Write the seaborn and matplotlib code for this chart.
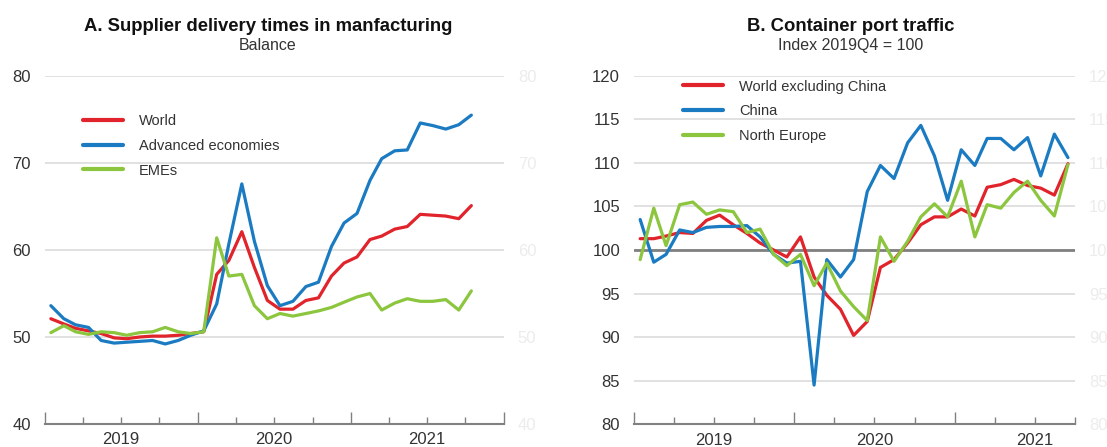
import matplotlib
matplotlib.use("Agg")
import matplotlib.pyplot as plt
import matplotlib.dates as mdates
from matplotlib.ticker import FuncFormatter, NullFormatter
import numpy as np
import pandas as pd
import seaborn as sns

# ---------------- data ----------------
# Panel A: supplier delivery times (monthly, Jan 2019 - Oct 2021)
months_a = pd.date_range("2019-01-01", periods=34, freq="MS") + pd.Timedelta(days=14)
world = [52.1, 51.5, 51.0, 50.7, 50.4, 49.9, 49.8, 50.0, 50.1, 50.1, 50.2, 50.4,
         50.6, 57.2, 58.8, 62.1, 58.0, 54.2, 53.2, 53.2, 54.2, 54.5, 57.0, 58.5,
         59.2, 61.2, 61.6, 62.4, 62.7, 64.1, 64.0, 63.9, 63.6, 65.1]
advanced = [53.6, 52.1, 51.4, 51.1, 49.6, 49.3, 49.4, 49.5, 49.6, 49.2, 49.6, 50.2,
            50.7, 53.8, 60.7, 67.6, 61.0, 55.9, 53.6, 54.1, 55.8, 56.3, 60.4, 63.1,
            64.2, 68.0, 70.5, 71.4, 71.5, 74.6, 74.3, 73.9, 74.4, 75.5]
emes = [50.5, 51.3, 50.6, 50.3, 50.6, 50.5, 50.2, 50.5, 50.6, 51.1, 50.6, 50.4,
        50.6, 61.4, 57.0, 57.2, 53.6, 52.1, 52.7, 52.4, 52.7, 53.0, 53.4, 54.0,
        54.6, 55.0, 53.1, 53.9, 54.4, 54.1, 54.1, 54.3, 53.1, 55.3]
labels_a = ["World", "Advanced economies", "EMEs"]

# Panel B: container port traffic (monthly, Jan 2019 - Sep 2021)
months_b = pd.date_range("2019-01-01", periods=33, freq="MS") + pd.Timedelta(days=14)
world_ex_china = [101.3, 101.3, 101.6, 102.0, 101.9, 103.4, 104.0, 102.9, 101.9, 100.8, 100.0, 99.2,
                  101.5, 96.9, 94.8, 93.2, 90.2, 91.8, 98.0, 98.9, 100.8, 102.9, 103.8, 103.8,
                  104.7, 103.9, 107.2, 107.5, 108.1, 107.4, 107.1, 106.3, 109.9]
china = [103.5, 98.6, 99.5, 102.3, 102.0, 102.6, 102.7, 102.7, 102.8, 101.5, 99.5, 98.5,
         98.7, 84.5, 98.9, 96.9, 98.9, 106.7, 109.7, 108.2, 112.3, 114.3, 110.8, 105.7,
         111.5, 109.7, 112.8, 112.8, 111.5, 112.9, 108.5, 113.3, 110.6]
north_europe = [98.9, 104.8, 100.5, 105.2, 105.5, 104.1, 104.6, 104.4, 102.0, 102.4, 99.5, 98.2,
                99.5, 95.9, 98.5, 95.3, 93.5, 91.9, 101.5, 98.7, 101.0, 103.8, 105.3, 103.8,
                107.9, 101.5, 105.2, 104.8, 106.6, 107.9, 105.7, 103.9, 109.8]
labels_b = ["World excluding China", "China", "North Europe"]

yticks_a = [40, 50, 60, 70, 80]
yticks_b = [80, 85, 90, 95, 100, 105, 110, 115, 120]

RED, BLUE, GREEN = "#e1232b", "#1b7bc2", "#8cc63e"

# ---------------- style ----------------
sns.set_theme(style="white")
plt.rcParams["font.family"] = ["Liberation Sans", "DejaVu Sans"]

W, H = 1107, 447
fig = plt.figure(figsize=(W / 100, H / 100), dpi=100)
axA = fig.add_axes([45 / W, 1 - 424 / H, 459 / W, 348 / H])
axB = fig.add_axes([634 / W, 1 - 424.3 / H, 441 / W, 348.6 / H])

dfA = pd.DataFrame({"date": months_a, labels_a[0]: world, labels_a[1]: advanced, labels_a[2]: emes})
dfA = dfA.melt("date", var_name="series", value_name="value")
dfB = pd.DataFrame({"date": months_b, labels_b[0]: world_ex_china, labels_b[1]: china, labels_b[2]: north_europe})
dfB = dfB.melt("date", var_name="series", value_name="value")

sns.lineplot(data=dfA, x="date", y="value", hue="series", hue_order=labels_a,
             palette=[RED, BLUE, GREEN], lw=2.3, ax=axA)
axB.axhline(100, color="#808080", lw=2.0, zorder=1.5)
sns.lineplot(data=dfB, x="date", y="value", hue="series", hue_order=labels_b,
             palette=[RED, BLUE, GREEN], lw=2.3, ax=axB)


def year_label(v, pos):
    d = mdates.num2date(v)
    return d.strftime("%Y") if d.month == 7 else ""


def style(ax, start, end, yticks):
    ax.set_xlim(pd.Timestamp(start), pd.Timestamp(end))
    ax.set_ylim(yticks[0], yticks[-1])
    ax.set_yticks(yticks)
    ax.set_xlabel("")
    ax.set_ylabel("")
    ax.xaxis.set_major_locator(mdates.YearLocator())
    ax.xaxis.set_major_formatter(NullFormatter())
    ax.xaxis.set_minor_locator(mdates.MonthLocator(bymonth=[4, 7, 10]))
    ax.xaxis.set_minor_formatter(FuncFormatter(year_label))
    ax.tick_params(axis="x", which="major", direction="in", length=9, width=1,
                   color="#808080", bottom=True)
    ax.tick_params(axis="x", which="minor", direction="in", length=5, width=1,
                   color="#808080", bottom=True, labelsize=12, labelcolor="#333333", pad=6)
    ax.tick_params(axis="y", length=0, labelsize=12, labelcolor="#333333", pad=10,
                   labelright=True)
    for t in ax.yaxis.get_major_ticks():
        t.label2.set_color("#ececec")
    ax.grid(axis="y", color="#dcdcdc", lw=1.2)
    ax.grid(axis="x", visible=False)
    for s in ["left", "right", "top"]:
        ax.spines[s].set_visible(False)
    ax.spines["bottom"].set_color("#808080")
    ax.spines["bottom"].set_linewidth(1.5)
    ax.spines["bottom"].set_zorder(3)


style(axA, "2019-01-01", "2022-01-01", yticks_a)
style(axB, "2019-01-01", "2021-10-01", yticks_b)

for ax, anchor in [(axA, (0.083, 0.891)), (axB, (0.111, 0.989))]:
    h, l = ax.get_legend_handles_labels()
    leg = ax.legend(h, l, loc="upper left", bbox_to_anchor=anchor, frameon=False,
                    fontsize=10.5, handlelength=2.75, handletextpad=1.1,
                    labelspacing=0.74, borderpad=0, borderaxespad=0)
    for line in leg.get_lines():
        line.set_linewidth(3)
    for t in leg.get_texts():
        t.set_color("#333333")

fig.text(268 / W, 1 - 31 / H, "A. Supplier delivery times in manfacturing",
         ha="center", va="baseline", fontsize=13.3, fontweight="bold", color="#111111")
fig.text(268 / W, 1 - 50 / H, "Balance", ha="center", va="baseline",
         fontsize=11.5, color="#333333")
fig.text(851 / W, 1 - 31 / H, "B. Container port traffic",
         ha="center", va="baseline", fontsize=13.3, fontweight="bold", color="#111111")
fig.text(851 / W, 1 - 50 / H, "Index 2019Q4 = 100", ha="center", va="baseline",
         fontsize=11.5, color="#333333")

fig.savefig("out.png", dpi=100)
